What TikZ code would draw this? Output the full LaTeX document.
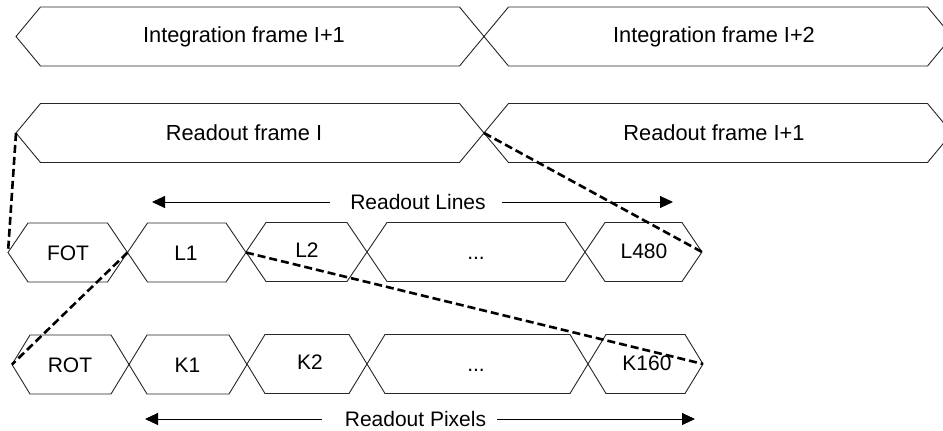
\documentclass[tikz,border=0pt]{standalone}
\usepackage{fontspec}
\setmainfont{Liberation Sans}
\usetikzlibrary{arrows.meta}
\newcommand\myhex[6]{% name, xl, xr, yc, slant, halfheight
  \coordinate (#1-w) at (#2,#4);
  \coordinate (#1-e) at (#3,#4);
  \draw[hexline] (#1-w) -- ({#2+#5},{#4-#6}) -- ({#3-#5},{#4-#6}) -- (#1-e)
    -- ({#3-#5},{#4+#6}) -- ({#2+#5},{#4+#6}) -- cycle;
}
\begin{document}
\begin{tikzpicture}[x=1pt,y=-1pt,
  hexline/.style={draw=black!85,line width=0.9pt,line join=miter},
  biglbl/.style={inner sep=0pt,font=\fontsize{21.8}{26}\selectfont},
  lbl/.style={inner sep=0pt,font=\fontsize{21}{25}\selectfont},
  dashlink/.style={line width=2.6pt,dash pattern=on 8pt off 4pt},
  dirarrow/.style={line width=0.9pt,-{Triangle[length=13pt,width=12pt]}}]
\useasboundingbox (0,0) rectangle (943,431);
\clip (0,0) rectangle (943,431);
% row 1: integration frames
\myhex{i1}{16}{484}{36.5}{24.5}{29.5}
\myhex{i2}{484}{952}{36.5}{24.5}{29.5}
\node[biglbl] (ti1) at (244,36.5) {Integration frame I+1};
\node[biglbl] (ti2) at (714,36.5) {Integration frame I+2};
% row 2: readout frames
\myhex{r1}{16}{484}{133}{24.5}{29.5}
\myhex{r2}{484}{952}{133}{24.5}{29.5}
\node[biglbl] (tr1) at (244,133) {Readout frame I};
\node[biglbl] (tr2) at (714,133) {Readout frame I+1};
% readout lines arrow
\node[lbl] (tlines) at (418,202) {Readout Lines};
\coordinate (la) at (330,202);
\coordinate (lat) at (152,202);
\coordinate (lb) at (502,202);
\coordinate (lbt) at (673,202);
\draw[dirarrow] (la) -- (lat);
\draw[dirarrow] (lb) -- (lbt);
% row 3: lines
\myhex{fot}{8}{127.5}{252.5}{20}{29.5}
\myhex{l1}{127.5}{246}{252.5}{20}{29.5}
\myhex{l2}{246}{367}{252}{20}{29.5}
\myhex{ld}{367}{585}{252}{20}{29.5}
\myhex{l480}{585}{702}{252}{20}{29.5}
\node[lbl] (tfot) at (68,253) {FOT};
\node[lbl] (tl1) at (186,253) {L1};
\node[lbl] (tl2) at (307,250) {L2};
\node[lbl] (tld) at (476,258) {...};
\node[lbl] (tl480) at (644,251) {L480};
% row 4: pixels
\myhex{rot}{12}{129}{364.5}{18}{29.5}
\myhex{k1}{129}{247}{364.5}{18}{29.5}
\myhex{k2}{247}{367}{364}{18}{29.5}
\myhex{kd}{367}{588}{364}{18}{29.5}
\myhex{k160}{588}{703}{364}{18}{29.5}
\node[lbl] (trot) at (70,365) {ROT};
\node[lbl] (tk1) at (187.5,365) {K1};
\node[lbl] (tk2) at (310,362) {K2};
\node[lbl] (tkd) at (476,370) {...};
\node[lbl] (tk160) at (647,363) {K160};
% readout pixels arrow
\node[lbl] (tpix) at (415.5,419) {Readout Pixels};
\coordinate (pa) at (322,419);
\coordinate (pat) at (145,419);
\coordinate (pb) at (497,419);
\coordinate (pbt) at (695,419);
\draw[dirarrow] (pa) -- (pat);
\draw[dirarrow] (pb) -- (pbt);
% dashed links
\draw[dashlink] (r1-w) -- (fot-w);
\draw[dashlink] (r1-e) -- (l480-e);
\draw[dashlink] (fot-e) -- (rot-w);
\draw[dashlink] (l1-e) -- (k160-e);
\end{tikzpicture}
\end{document}
